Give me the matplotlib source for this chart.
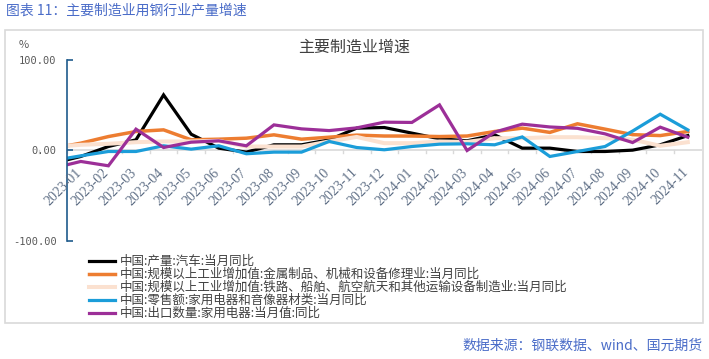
import matplotlib
matplotlib.use("Agg")
import matplotlib.pyplot as plt
from matplotlib.patches import Rectangle

plt.rcParams['font.family'] = ['Noto Sans CJK SC', 'DejaVu Sans']

# 类别：第一个点 2022-12 只露出一半（坐标轴从 2023-01 左侧半格开始）
months = ['2022-12',
          '2023-01', '2023-02', '2023-03', '2023-04', '2023-05', '2023-06',
          '2023-07', '2023-08', '2023-09', '2023-10', '2023-11', '2023-12',
          '2024-01', '2024-02', '2024-03', '2024-04', '2024-05', '2024-06',
          '2024-07', '2024-08', '2024-09', '2024-10', '2024-11']

car = [-14, -6.6, 4.4, 11.8, 61.4, 18.0, 2.6, -1.8, 6.3, 6.3, 11.8, 24.7,
       25.4, 19.2, 13.0, 10.7, 17.3, 2.6, 2.6, -1.1, -1.1, 0.4, 6.3, 16.5]
metal = [2.3, 8.1, 15.4, 21.0, 22.8, 11.8, 12.5, 13.6, 17.3, 12.5, 14.7, 17.0,
         16.0, 16.0, 15.4, 16.0, 21.0, 24.7, 20.0, 29.5, 23.6, 17.5, 16.5, 21.0]
transport = [4.0, 6.3, 7.4, 9.2, 10.0, 10.0, 10.7, 4.4, 4.4, 4.4, 10.0, 15.0,
             8.1, 8.1, 10.0, 9.5, 13.6, 13.6, 14.7, 14.7, 13.6, 12.0, 5.2, 9.2]
retail = [-11, -5.9, -1.1, -1.1, 5.2, 1.5, 5.2, -3.6, -1.8, -1.8, 10.0, 3.3,
          0.8, 4.4, 7.0, 7.4, 6.3, 15.0, -6.6, -1.1, 4.4, 21.5, 40.1, 22.8]
export = [-19.5, -12.1, -16.9, 23.6, 3.3, 9.2, 10.7, 5.2, 28.3, 23.9, 22.0, 25.0,
          31.3, 31.0, 50.4, 0.0, 20.3, 29.1, 26.0, 24.5, 18.4, 8.8, 25.8, 14.7]

series = [
    ('中国:产量:汽车:当月同比', car, '#000000', 2.3),
    ('中国:规模以上工业增加值:金属制品、机械和设备修理业:当月同比', metal, '#ED7D31', 2.5),
    ('中国:规模以上工业增加值:铁路、船舶、航空航天和其他运输设备制造业:当月同比', transport, '#FBE1D0', 2.9),
    ('中国:零售额:家用电器和音像器材类:当月同比', retail, '#1B9DD9', 2.3),
    ('中国:出口数量:家用电器:当月值:同比', export, '#9C2F98', 2.3),
]

W, H = 709, 359
fig = plt.figure(figsize=(W / 100, H / 100), dpi=100)

# 外框
fig.patches.append(Rectangle((5 / W, 1 - 323 / H), 698 / W, 293 / H,
                             transform=fig.transFigure, fill=False,
                             edgecolor='#d9d9d9', linewidth=1.2))

ax = fig.add_axes([67 / W, 1 - 241 / H, 634.6 / W, 181 / H])
x = list(range(-1, len(months) - 1))
for name, vals, color, lw in series:
    ax.plot(x, vals, color=color, linewidth=lw, label=name, solid_joinstyle='miter')

ax.set_xlim(-0.5, len(months) - 1.5)
ax.set_ylim(-100, 100)

for s in ['top', 'right', 'bottom']:
    ax.spines[s].set_visible(False)
ax.spines['left'].set_color('#1f5b8c')
ax.spines['left'].set_linewidth(1.2)
ax.axhline(0, color='#d9d9d9', linewidth=1.2, zorder=0.5)

ax.set_yticks([-100, 0, 100])
ax.set_yticklabels(['-100.00', '0.00', '100.00'], family='DejaVu Sans Mono',
                   fontsize=7.5, color='#595959')
ax.tick_params(axis='y', direction='in', length=4, width=1.2, color='#1f5b8c', pad=7.5)

ax.set_xticks([])
# 类别刻度线（在零线上，向下）
for i in range(len(months)):
    ax.plot([i - 1.5, i - 1.5], [0, -3.2], color='#d9d9d9', linewidth=1.0,
            clip_on=False, zorder=0.5)

for i, m in enumerate(months[1:]):
    ax.text(i - 0.22, -17, m, rotation=45, ha='right', va='top',
            family='Liberation Serif', fontsize=10, color='#5f6f86',
            rotation_mode='anchor')

fig.text(24 / W, 1 - 45 / H, '%', fontsize=8, color='#595959', ha='center', va='center')
fig.text(354 / W, 1 - 47.5 / H, '主要制造业增速', fontsize=11.5, color='#404040',
         ha='center', va='center')

fig.text(6 / W, 1 - 10 / H, '图表 11：主要制造业用钢行业产量增速', fontsize=10,
         color='#4a6cc8', ha='left', va='center')
fig.text(703 / W, 1 - 345.5 / H, '数据来源：钢联数据、wind、国元期货', fontsize=10,
         color='#4a6cc8', ha='right', va='center')

leg = ax.legend(loc='upper left', bbox_to_anchor=(89 / W, 1 - 255 / H),
                bbox_transform=fig.transFigure, frameon=False, fontsize=9,
                labelspacing=0.0, handlelength=2.1, handletextpad=0.4,
                borderpad=0, borderaxespad=0)
for t in leg.get_texts():
    t.set_color('#404040')

fig.savefig('out.png', dpi=100)
